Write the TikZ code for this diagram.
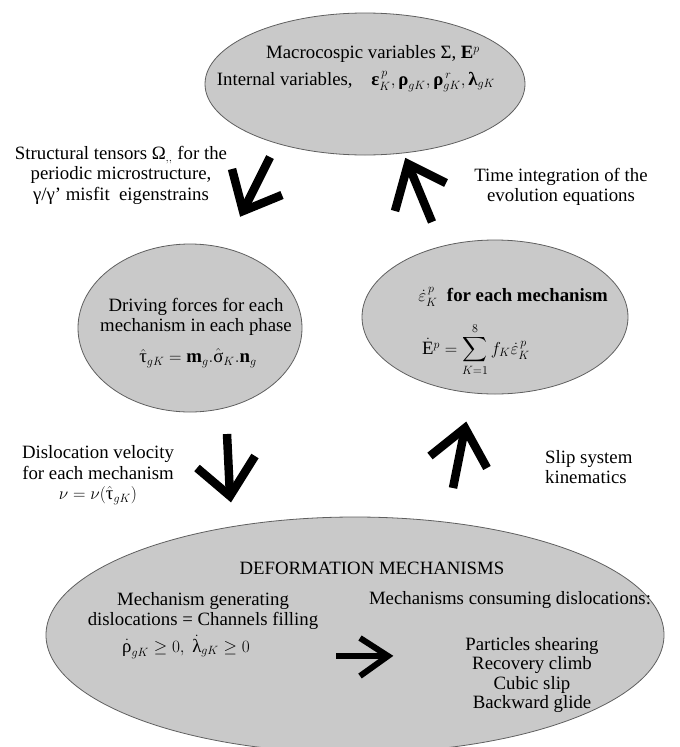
\documentclass[tikz,border=0pt]{standalone}
\usepackage{amsmath}
\usepackage{fontspec}
\setmainfont{Liberation Serif}
\usetikzlibrary{shapes.geometric}
\definecolor{ellfill}{RGB}{201,201,201}
\definecolor{elldraw}{RGB}{95,95,95}
\tikzset{
  ell/.style={ellipse, draw=elldraw, line width=0.8pt, fill=ellfill, inner sep=0pt},
  txt/.style={font=\fontsize{18.8}{20.5}\selectfont, inner sep=0pt, align=center},
  listtxt/.style={font=\fontsize{18.8}{19.5}\selectfont, inner sep=0pt, align=center},
  bigarrow/.style={line width=8.5pt, line join=miter, line cap=butt, black},
  midarrow/.style={line width=6pt, line join=miter, line cap=butt, black}
}
\begin{document}
\begin{tikzpicture}[x=1pt,y=-1pt]
\useasboundingbox (0,0) rectangle (680,747);
% ellipses
\node[ell, minimum width=320pt, minimum height=142pt] (top) at (365,84) {};
\node[ell, minimum width=224pt, minimum height=168pt] (left) at (190,328) {};
\node[ell, minimum width=266pt, minimum height=154pt] (right) at (495,317) {};
\node[ell, minimum width=618pt, minimum height=236pt] (bottom) at (355,635) {};
% top ellipse texts
\node[txt] (macro) at (373,54) {Macrocospic variables Σ, $\mathbf{E}^{p}$};
\node[txt] (internal) at (356,82) {Internal variables,\quad $\textbf{ε}^{\,p}_{K},\textbf{ρ}_{gK},\textbf{ρ}^{\,r}_{gK},\textbf{λ}_{gK}$};
% side labels
\node[txt] (struct) at (121,175) {Structural tensors Ω$_{,,}$ for the\\periodic microstructure,\\γ/γ' misfit\ \ eigenstrains};
\node[txt] (timeint) at (561,187) {Time integration of the\\evolution equations};
% left ellipse texts
\node[txt] (driving) at (196,317) {Driving forces for each\\mechanism in each phase};
\node[txt] (tauhat) at (198,358) {$\hat{\text{τ}}_{gK} = \mathbf{m}_{g}.\hat{\text{σ}}_{K}.\mathbf{n}_{g}$};
% right ellipse texts
\node[txt, anchor=east] (epsdot) at (608,297) {$\dot{\varepsilon}^{\,p}_{K}$\enspace\textbf{for each mechanism}};
\node[txt] (sumeq) at (476,350) {$\dot{\mathrm{E}}^{p} = \displaystyle\sum_{K=1}^{8} f_{K}\dot{\varepsilon}^{\,p}_{K}$};
% lower labels
\node[txt] (disvel) at (98,475) {Dislocation velocity\\for each mechanism\\$\nu = \nu(\hat{\text{τ}}_{gK})$};
\node[txt, anchor=west, align=left] (slip) at (545,467) {Slip system\\kinematics};
% bottom ellipse texts
\node[txt] (deform) at (372,568) {DEFORMATION MECHANISMS};
\node[txt] (gen) at (203,611) {Mechanism generating\\dislocations = Channels filling};
\node[txt] (genineq) at (186,647) {$\dot{\text{ρ}}_{gK} \geq 0,\ \dot{\text{λ}}_{gK} \geq 0$};
\node[txt] (consume) at (510,600) {Mechanisms consuming dislocations:};
\node[listtxt] (list) at (532,675) {Particles shearing\\Recovery climb\\Cubic slip\\Backward glide};
% arrow coordinates
\coordinate (aTail) at (270,157); \coordinate (aTip) at (243,211);
\coordinate (aB1) at (232,169); \coordinate (aB2) at (282,195);
\coordinate (bTail) at (432,222); \coordinate (bTip) at (408,164);
\coordinate (bB1) at (395,211); \coordinate (bB2) at (446,183);
\coordinate (cTail) at (227,434); \coordinate (cTip) at (230,496);
\coordinate (cB1) at (197,468); \coordinate (cB2) at (255,456);
\coordinate (dTail) at (453,488); \coordinate (dTip) at (465,428);
\coordinate (dB1) at (430,456); \coordinate (dB2) at (487,468);
\coordinate (eTail) at (336,656); \coordinate (eTip) at (388,656);
\coordinate (eB1) at (360,638); \coordinate (eB2) at (360,676);
% arrows
\draw[bigarrow] (aTail) -- (aTip); \draw[bigarrow] (aB1) -- (aTip) -- (aB2);
\draw[bigarrow] (bTail) -- (bTip); \draw[bigarrow] (bB1) -- (bTip) -- (bB2);
\draw[bigarrow] (cTail) -- (cTip); \draw[bigarrow] (cB1) -- (cTip) -- (cB2);
\draw[bigarrow] (dTail) -- (dTip); \draw[bigarrow] (dB1) -- (dTip) -- (dB2);
\draw[midarrow] (eTail) -- (eTip); \draw[midarrow] (eB1) -- (eTip) -- (eB2);
\end{tikzpicture}
\end{document}
